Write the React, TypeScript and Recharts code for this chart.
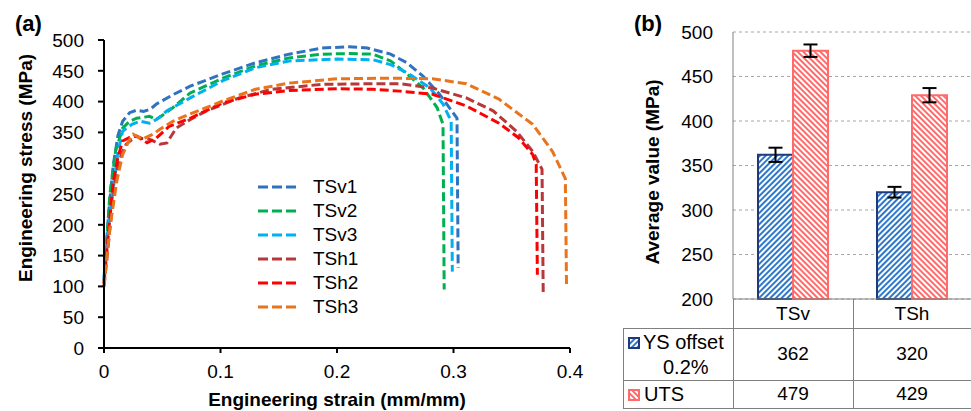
import {
  LineChart,
  Line,
  XAxis,
  YAxis,
  BarChart,
  Bar,
  CartesianGrid,
  ErrorBar,
} from "recharts";

const FONT = '"Liberation Sans", Arial, sans-serif';

// (a) stress-strain curves, [strain mm/mm, stress MPa]
const tsv1: [number, number][] = [
  [0, 110], [0.004, 220], [0.008, 298], [0.012, 345], [0.016, 368], [0.022, 382],
  [0.028, 386], [0.034, 384], [0.04, 388], [0.045, 396], [0.06, 412], [0.074, 425],
  [0.102, 445], [0.13, 463], [0.159, 477], [0.187, 487], [0.21, 489], [0.226, 487],
  [0.246, 477], [0.26, 463], [0.274, 441], [0.288, 412], [0.303, 373], [0.304, 130],
];
const tsv2: [number, number][] = [
  [0, 105], [0.005, 249], [0.01, 320], [0.016, 357], [0.022, 368], [0.028, 373],
  [0.039, 376], [0.045, 371], [0.052, 380], [0.059, 390], [0.074, 414], [0.102, 438],
  [0.13, 458], [0.159, 471], [0.187, 477], [0.21, 478], [0.231, 477], [0.246, 466],
  [0.26, 445], [0.274, 422], [0.286, 390], [0.291, 363], [0.292, 95],
];
const tsv3: [number, number][] = [
  [0, 115], [0.004, 200], [0.008, 259], [0.012, 318], [0.016, 352], [0.024, 363],
  [0.031, 368], [0.039, 365], [0.046, 372], [0.054, 385], [0.074, 406], [0.102, 434],
  [0.13, 455], [0.159, 466], [0.2, 469], [0.231, 468], [0.246, 460], [0.26, 447],
  [0.28, 422], [0.291, 396], [0.298, 368], [0.299, 124],
];
const tsh1: [number, number][] = [
  [0, 100], [0.006, 210], [0.011, 287], [0.015, 315], [0.019, 331], [0.028, 344],
  [0.033, 340], [0.039, 339], [0.048, 331], [0.054, 333], [0.062, 357], [0.075, 372],
  [0.088, 385], [0.116, 406], [0.144, 420], [0.187, 428], [0.23, 429], [0.254, 429],
  [0.282, 422], [0.311, 406], [0.334, 385], [0.354, 352], [0.368, 319], [0.376, 290],
  [0.377, 91],
];
const tsh2: [number, number][] = [
  [0, 105], [0.004, 190], [0.008, 271], [0.012, 310], [0.016, 336], [0.022, 342],
  [0.028, 344], [0.037, 333], [0.045, 341], [0.056, 360], [0.074, 373], [0.102, 398],
  [0.13, 412], [0.159, 418], [0.2, 421], [0.231, 420], [0.254, 417], [0.282, 412],
  [0.311, 393], [0.339, 365], [0.356, 341], [0.368, 314], [0.371, 298], [0.372, 119],
];
const tsh3: [number, number][] = [
  [0, 100], [0.005, 194], [0.011, 271], [0.016, 314], [0.021, 335], [0.025, 347],
  [0.033, 339], [0.042, 347], [0.048, 355], [0.059, 368], [0.074, 380], [0.102, 401],
  [0.13, 420], [0.159, 430], [0.2, 437], [0.246, 438], [0.282, 437], [0.311, 429],
  [0.339, 404], [0.368, 363], [0.385, 319], [0.396, 275], [0.397, 103],
];

const curveNames = ["TSv1", "TSv2", "TSv3", "TSh1", "TSh2", "TSh3"];
const curveColors = ["#2F72C0", "#00B050", "#00B0F0", "#B8373A", "#FF0000", "#E8741E"];
const curves = [tsv1, tsv2, tsv3, tsh1, tsh2, tsh3];
const strainTicks = [0, 0.1, 0.2, 0.3, 0.4];
const stressTicks = [0, 50, 100, 150, 200, 250, 300, 350, 400, 450, 500];

// (b) averages
const specimens = ["TSv", "TSh"];
const ysValues = [362, 320];
const ysErrors = [8, 6];
const utsValues = [479, 429];
const utsErrors = [7, 8];
const averageTicks = [200, 250, 300, 350, 400, 450, 500];

const barData = specimens.map((name, i) => ({
  name,
  ys: ysValues[i],
  ysErr: ysErrors[i],
  uts: utsValues[i],
  utsErr: utsErrors[i],
}));

function Hatch({ id, color, angle }: { id: string; color: string; angle: number }) {
  return (
    <pattern id={id} width={4} height={4} patternUnits="userSpaceOnUse" patternTransform={`rotate(${angle})`}>
      <rect width={4} height={4} fill="#fff" />
      <line x1={2} y1={0} x2={2} y2={4} stroke={color} strokeWidth={2} />
    </pattern>
  );
}

function KeySquare({ id, color, border, angle }: { id: string; color: string; border: string; angle: number }) {
  return (
    <svg width={12} height={12} style={{ display: "block" }}>
      <defs>
        <Hatch id={id} color={color} angle={angle} />
      </defs>
      <rect x={1} y={1} width={10} height={10} fill={`url(#${id})`} stroke={border} strokeWidth={2} />
    </svg>
  );
}

const lineGray = "#808080";
const tickStyle = { fontSize: 19, fill: "#000", fontFamily: FONT };

export default function App() {
  return (
    <div style={{ position: "absolute", left: 0, top: 0, width: 971, height: 411, overflow: "hidden", fontFamily: FONT, background: "#fff" }}>
      <div style={{ position: "absolute", left: 15, top: 11, fontSize: 22, fontWeight: "bold" }}>(a)</div>
      <div style={{ position: "absolute", left: 634, top: 11, fontSize: 22, fontWeight: "bold" }}>(b)</div>

      <div style={{ position: "absolute", left: 0, top: 0 }}>
        <LineChart width={600} height={411} margin={{ top: 40, right: 30, left: 0, bottom: 0 }}>
          <XAxis
            type="number"
            dataKey="x"
            domain={[0, 0.4]}
            ticks={strainTicks}
            interval={0}
            height={63}
            tick={tickStyle}
            tickSize={5}
            tickMargin={12}
            stroke="#000"
            strokeWidth={2}
            label={() => (
              <text x={337} y={406} textAnchor="middle" fontWeight="bold" fontSize={19} fill="#000" fontFamily={FONT}>
                Engineering strain (mm/mm)
              </text>
            )}
          />
          <YAxis
            type="number"
            domain={[0, 500]}
            ticks={stressTicks}
            interval={0}
            width={104}
            tick={tickStyle}
            tickSize={6}
            tickMargin={14}
            stroke="#000"
            strokeWidth={2}
            label={() => (
              <text
                x={25}
                y={168}
                transform="rotate(-90 25 168)"
                textAnchor="middle"
                dominantBaseline="central"
                fontWeight="bold"
                fontSize={19}
                fill="#000"
                fontFamily={FONT}
              >
                Engineering stress (MPa)
              </text>
            )}
          />
          {curves.map((c, i) => (
            <Line
              key={curveNames[i]}
              name={curveNames[i]}
              data={c.map(([x, y]) => ({ x, y }))}
              dataKey="y"
              type="linear"
              stroke={curveColors[i]}
              strokeWidth={3}
              strokeDasharray="9 4"
              dot={false}
              activeDot={false}
              isAnimationActive={false}
            />
          ))}
        </LineChart>
      </div>

      {/* legend for (a) */}
      <div style={{ position: "absolute", left: 258, top: 175 }}>
        {curveNames.map((name, i) => (
          <div key={name} style={{ display: "flex", alignItems: "center", height: 24 }}>
            <svg width={40} height={6}>
              <line x1={0} y1={3} x2={40} y2={3} stroke={curveColors[i]} strokeWidth={3} strokeDasharray="10 4" />
            </svg>
            <span style={{ marginLeft: 15, fontSize: 19 }}>{name}</span>
          </div>
        ))}
      </div>

      <div style={{ position: "absolute", left: 630, top: 0 }}>
        <BarChart
          width={341}
          height={320}
          data={barData}
          margin={{ top: 32, right: 0, left: 0, bottom: 0 }}
          barCategoryGap={25}
          barGap={0}
        >
          <defs>
            <Hatch id="ysHatch" color="#2E78CC" angle={45} />
            <Hatch id="utsHatch" color="#FF6B6B" angle={-45} />
          </defs>
          <CartesianGrid vertical={false} stroke="#A6A6A6" strokeDasharray="3 3" />
          <XAxis dataKey="name" height={21} tick={false} tickLine={false} stroke={lineGray} />
          <YAxis
            domain={[200, 500]}
            ticks={averageTicks}
            interval={0}
            width={103}
            tick={tickStyle}
            tickLine={false}
            tickSize={6}
            tickMargin={14}
            stroke={lineGray}
            label={() => (
              <text
                x={22}
                y={172}
                transform="rotate(-90 22 172)"
                textAnchor="middle"
                dominantBaseline="central"
                fontWeight="bold"
                fontSize={19}
                fill="#000"
                fontFamily={FONT}
              >
                Average value (MPa)
              </text>
            )}
          />
          <Bar dataKey="ys" fill="url(#ysHatch)" stroke="#1F3A7A" strokeWidth={2} isAnimationActive={false}>
            <ErrorBar dataKey="ysErr" width={7} strokeWidth={2} stroke="#000" />
          </Bar>
          <Bar dataKey="uts" fill="url(#utsHatch)" stroke="#FF6B6B" strokeWidth={2} isAnimationActive={false}>
            <ErrorBar dataKey="utsErr" width={7} strokeWidth={2} stroke="#000" />
          </Bar>
        </BarChart>
      </div>

      {/* data table under panel (b) */}
      {[328, 380, 408].map((y) => (
        <div key={y} style={{ position: "absolute", left: 623, top: y, width: 348, height: 1, background: lineGray }} />
      ))}
      <div style={{ position: "absolute", left: 623, top: 328, width: 1, height: 81, background: lineGray }} />
      {[733, 853].map((x) => (
        <div key={x} style={{ position: "absolute", left: x, top: 299, width: 1, height: 110, background: lineGray }} />
      ))}
      {specimens.map((s, i) => {
        const cx = 793 + i * 119;
        const cell = { position: "absolute" as const, left: cx - 55, width: 110, textAlign: "center" as const, fontSize: 19, lineHeight: "22px" };
        return (
          <div key={s}>
            <div style={{ ...cell, top: 303 }}>{s}</div>
            <div style={{ ...cell, top: 343 }}>{ysValues[i]}</div>
            <div style={{ ...cell, top: 383 }}>{utsValues[i]}</div>
          </div>
        );
      })}
      <div style={{ position: "absolute", left: 628, top: 337 }}>
        <KeySquare id="ysKey" color="#2E78CC" border="#1F3A7A" angle={45} />
      </div>
      <div style={{ position: "absolute", left: 643, top: 331, fontSize: 20, lineHeight: "22px" }}>YS offset</div>
      <div style={{ position: "absolute", left: 663, top: 356, fontSize: 20, lineHeight: "22px" }}>0.2%</div>
      <div style={{ position: "absolute", left: 628, top: 389 }}>
        <KeySquare id="utsKey" color="#FF6B6B" border="#FF6B6B" angle={-45} />
      </div>
      <div style={{ position: "absolute", left: 644, top: 383, fontSize: 20, lineHeight: "22px" }}>UTS</div>
    </div>
  );
}
